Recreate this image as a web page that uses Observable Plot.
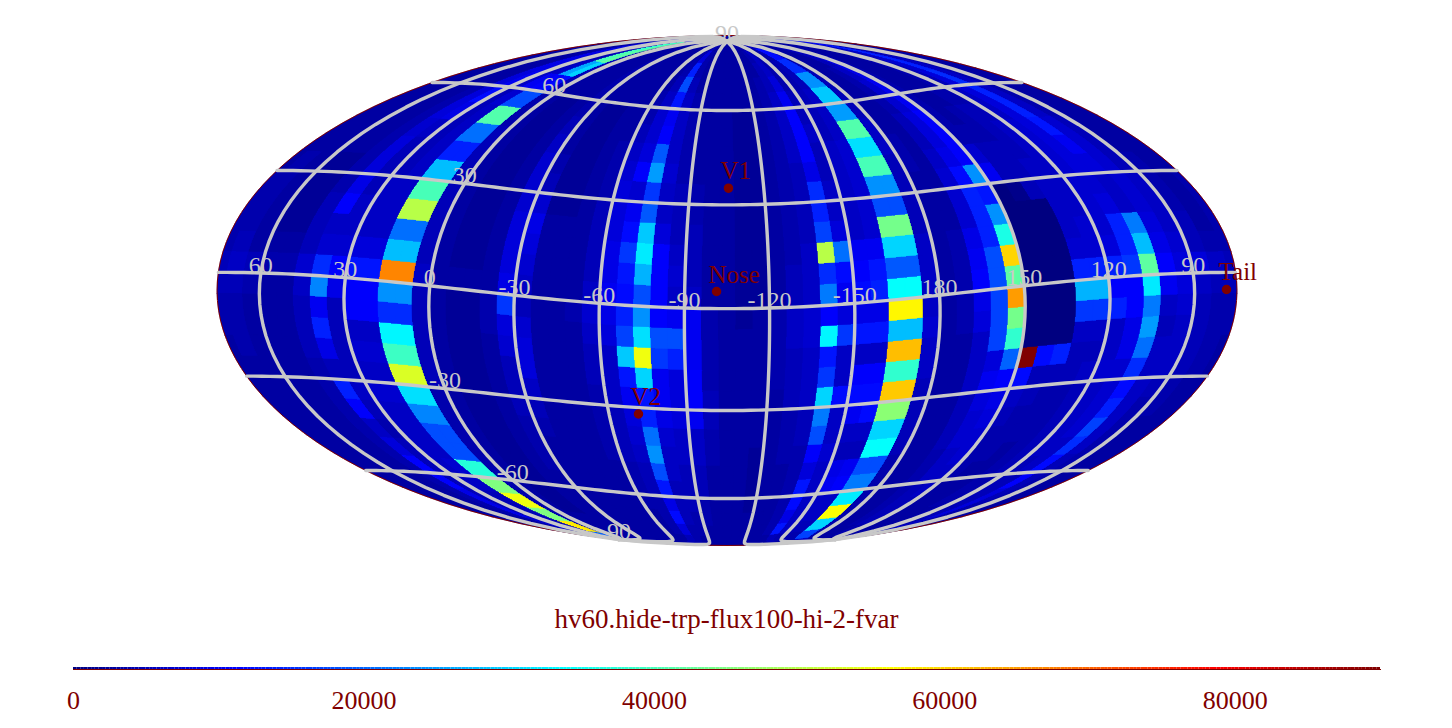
<!DOCTYPE html>
<html><head><meta charset="utf-8">
<script src="https://cdn.jsdelivr.net/npm/d3@7"></script>
<script src="https://cdn.jsdelivr.net/npm/@observablehq/plot@0.6"></script>
<style>
html,body{margin:0;padding:0;background:#fff;}
svg{display:block;}
#title{height:38px;text-align:center;font:27px "Liberation Serif";line-height:38px;color:#800000;padding-left:1px;overflow:visible;}
</style></head><body>
<div id="map"></div><div id="title"></div><div id="bar"></div>
<script>
const titleText = "hv60.hide-trp-flux100-hi-2-fvar";
// flux in thousands: rows from lat 90 down to -90 (6 deg), columns from lon 78 descending (6 deg)
const row00=[3,3,3,3,3,3,3,3,3,4, 10,10,3,3,3,3,3,3,3,3, 3,3,3,3,3,5,3,3,3,3, 3,3,3,3,3,3,4,3,3,3, 6,6,3,3,3,3,3,3,3,3, 3,3,3,3,3,8,3,3,3,3];
const row01=[3,3,3,3,3,3,8,8,4,5, 38,42,4,3,3,3,3,3,3,3, 3,3,3,3,4,8,4,3,3,3, 3,3,3,3,3,4,6,4,3,4, 12,12,4,3,3,3,5,6,3,3, 3,3,3,3,5,12,5,3,3,3];
const row02=[3,3,3,3,3,3,9,8,4,5, 40,42,5,3,3,3,3,4,3,3, 3,3,3,3,4,14,4,3,3,3, 3,3,3,3,3,5,6,4,4,5, 15,15,4,3,3,3,5,8,4,3, 3,3,3,4,6,14,5,4,3,3];
const row03=[3,3,3,3,3,3,9,9,5,6, 26,30,5,3,3,3,3,4,3,3, 3,3,3,3,5,18,5,3,3,3, 3,3,3,3,4,5,8,4,4,5, 24,24,5,3,3,4,6,9,4,3, 3,3,4,5,7,14,6,4,3,3];
const row04=[3,3,3,3,3,3,8,10,6,10, 11,12,5,3,3,3,3,4,3,3, 3,3,3,4,6,13,6,4,3,3, 3,3,3,3,4,6,10,5,5,6, 29,29,5,3,3,4,7,10,4,3, 3,3,4,5,8,15,6,4,3,3];
const row05=[3,3,3,3,3,4,8,12,5,7, 18,18,4,3,2,2,3,4,3,2, 2,3,3,4,7,10,6,4,3,3, 3,2,2,3,4,6,11,5,5,6, 25,25,5,3,3,4,7,10,4,3, 3,4,4,6,8,14,6,4,3,3];
const row06=[3,3,3,3,3,4,8,9,5,6, 41,41,4,3,2,2,3,5,3,2, 2,3,3,5,7,11,6,4,3,3, 3,2,2,3,4,6,11,6,5,6, 41,41,6,3,3,5,8,11,4,3, 4,5,5,6,8,14,6,4,3,3];
const row07=[3,3,3,3,3,4,7,6,5,6, 21,21,5,3,2,2,3,6,3,2, 2,3,4,6,8,19,6,4,3,3, 3,2,2,3,4,6,11,5,6,7, 31,31,6,4,3,5,8,11,4,4, 4,5,6,7,8,13,7,5,3,3];
const row08=[3,3,3,3,3,4,8,5,5,6, 14,14,5,3,2,2,3,7,4,2, 2,3,4,7,11,25,7,4,3,3, 3,2,2,3,4,5,9,5,6,7, 40,40,5,4,3,6,9,11,7,5, 5,5,6,7,8,10,7,5,3,3];
const row09=[3,4,3,2,2,4,8,5,5,6, 28,28,5,3,2,2,3,7,5,2, 2,3,4,8,7,16,6,5,4,3, 3,2,2,3,4,5,15,6,6,7, 24,24,5,3,3,7,12,24,10,5, 5,6,6,7,8,8,7,5,4,3];
const row10=[4,4,3,2,2,4,9,5,6,6, 40,40,5,3,2,2,3,7,7,2, 2,3,5,8,10,19,6,5,4,3, 3,2,2,3,4,5,14,6,6,7, 18,18,5,3,3,7,14,13,0,1, 5,6,6,7,7,6,7,6,4,3];
const row11=[4,4,3,2,2,5,11,6,6,6, 50,50,5,3,2,2,3,8,9,3, 3,3,5,8,12,29,8,5,5,3, 3,2,2,3,4,5,17,8,6,7, 44,44,5,3,3,7,14,24,0,0, 0,6,6,7,8,6,7,6,4,3];
const row12=[4,4,3,2,2,5,6,6,6,6, 21,21,5,3,2,2,3,8,8,3, 3,3,5,9,16,32,11,6,5,3, 3,2,2,3,4,6,50,21,10,10, 30,30,6,3,4,9,14,36,0,0, 0,6,7,7,14,22,8,6,5,3];
const row13=[4,5,3,3,3,5,7,7,8,8, 28,28,5,3,2,2,3,8,7,3, 3,3,5,9,13,27,11,7,5,3, 3,2,2,3,5,6,15,12,11,13, 19,19,6,3,4,10,18,60,0,0, 0,7,7,8,14,28,9,7,5,4];
const row14=[5,6,5,4,4,7,15,11,13,13, 67,67,6,3,3,3,3,9,6,3, 3,3,6,10,12,18,11,6,6,3, 3,2,2,3,5,6,22,10,12,14, 34,34,6,3,4,11,18,42,0,0, 0,14,14,14,16,42,11,8,8,6];
const row15=[5,5,4,3,3,6,23,9,11,11, 24,24,5,3,2,2,4,16,5,3, 3,4,7,9,14,24,11,10,10,4, 3,2,3,4,6,7,11,8,9,9, 57,57,6,3,4,9,17,65,0,0, 0,27,27,11,11,32,10,8,6,5];
const row16=[4,4,3,3,3,5,10,5,11,11, 15,15,5,3,2,2,4,8,7,3, 3,3,6,8,17,31,18,18,10,4, 3,3,3,4,6,7,33,16,13,13, 28,28,7,3,4,8,17,44,0,0, 0,16,16,14,11,22,6,7,5,4];
const row17=[4,4,3,3,3,5,14,5,6,6, 33,33,5,3,2,2,3,7,8,3, 3,3,5,6,29,55,16,14,10,4, 3,3,3,4,5,6,13,6,6,6, 62,62,6,3,3,6,17,38,0,0, 0,6,6,6,9,25,5,6,5,4];
const row18=[3,4,3,3,3,5,9,5,7,7, 39,39,5,3,2,2,3,5,8,3, 3,3,5,6,13,30,10,8,11,4, 3,3,3,4,5,6,16,6,11,11, 38,38,6,3,3,6,8,20,90,12, 14,5,5,6,9,21,6,6,5,4];
const row19=[3,3,3,3,3,4,5,5,6,6, 53,53,5,3,2,2,3,5,6,3, 3,3,4,6,10,13,10,8,11,5, 3,3,3,3,5,6,30,12,12,12, 61,61,5,3,3,6,10,11,12,5, 5,5,6,7,7,15,6,6,5,4];
const row20=[3,3,3,3,3,4,14,6,7,7, 31,31,4,3,2,2,3,5,5,3, 3,3,4,5,8,14,9,8,10,5, 3,3,3,3,4,5,22,6,10,12, 46,46,5,3,3,5,8,9,6,5, 4,4,5,6,7,12,6,5,4,3];
const row21=[3,3,3,3,3,4,11,5,6,6, 23,23,4,3,2,2,3,4,4,3, 3,3,4,5,7,21,7,6,6,4, 3,3,3,3,4,5,18,6,6,6, 30,30,5,3,3,5,7,8,5,4, 4,4,5,6,7,14,6,4,4,3];
const row22=[3,3,3,3,3,4,6,4,6,6, 18,18,4,3,2,2,3,4,3,3, 3,3,4,5,6,24,6,6,6,4, 3,3,2,3,4,4,11,7,5,5, 34,34,5,3,3,5,7,7,4,4, 4,4,5,6,7,17,6,4,3,3];
const row23=[3,3,3,3,3,4,8,5,6,6, 18,18,4,3,2,2,3,4,3,3, 3,3,3,4,5,18,6,5,5,3, 3,3,2,3,3,4,8,6,9,10, 18,18,4,3,3,4,6,7,4,4, 3,4,5,6,6,15,6,4,3,3];
const row24=[3,3,3,3,3,4,11,5,6,7, 37,37,4,3,2,2,3,3,3,3, 3,3,3,4,5,13,5,5,5,3, 3,3,2,3,3,4,13,6,10,11, 22,22,4,3,3,4,6,6,4,3, 3,4,5,5,6,12,5,4,3,3];
const row25=[3,3,3,3,3,4,11,5,6,6, 45,45,4,3,2,2,3,3,3,3, 3,3,3,4,4,9,5,5,4,3, 3,3,2,3,3,4,12,6,6,6, 32,32,4,3,3,4,5,6,3,3, 3,4,4,5,5,11,5,4,3,3];
const row26=[3,3,3,3,3,4,9,5,5,5, 55,55,4,3,2,2,3,3,3,3, 3,3,3,3,4,12,5,4,4,3, 3,3,3,3,3,4,9,6,6,6, 56,56,4,3,3,4,5,5,3,3, 3,4,4,5,5,8,5,4,3,3];
const row27=[3,3,3,3,3,4,9,5,5,5, 45,45,4,3,3,3,3,3,3,3, 3,3,3,3,4,8,4,4,3,3, 3,3,3,3,3,4,13,6,5,5, 30,30,4,3,3,4,5,5,3,3, 3,3,4,4,5,8,4,4,3,3];
const row28=[3,3,3,3,3,3,7,5,5,5, 58,58,4,3,3,3,3,3,3,3, 3,3,3,3,3,5,4,3,3,3, 3,3,3,3,3,3,5,4,4,4, 17,17,4,3,3,3,4,4,3,3, 3,3,3,4,4,6,4,3,3,3];
const row29=[3,3,3,3,3,3,4,4,4,4, 20,20,3,3,3,3,3,3,3,3, 3,3,3,3,3,4,3,3,3,3, 3,3,3,3,3,3,4,3,3,3, 6,6,3,3,3,3,3,3,3,3, 3,3,3,3,3,4,3,3,3,3];
const rows=[row00,row01,row02,row03,row04,row05,row06,row07,row08,row09,row10,row11,row12,row13,row14,row15,row16,row17,row18,row19,row20,row21,row22,row23,row24,row25,row26,row27,row28,row29];

const meridians=[-150,-120,-90,-60,-30,0,30,60,90,120,150,180];
const parallels=[-60,-30,0,30,60];
const lonLabels=[[60,"60"],[30,"30"],[0,"0"],[-30,"-30"],[-60,"-60"],[-90,"-90"],[-120,"-120"],[-150,"-150"],[180,"180"],[150,"150"],[120,"120"],[90,"90"]];
const latLabels=[[0,90,"90"],[0,60,"60"],[0,30,"30"],[0,-30,"-30"],[0,-60,"-60"],[0,-89.9,"90"]];
const probes=[[-101.3,4.9,"Nose"],[-105.6,35,"V1"],[-71.3,-32,"V2"],[78.7,-4.9,"Tail"]];
const colorStops=[0,11250,33750,56250,78750,90000];
const colorRange=["#000080","#0000ff","#00ffff","#ffff00","#ff0000","#800000"];
const barTicks=[0,20000,40000,60000,80000];

const GREY="#c8c8c8", RED="#800000", SERIF='"Liberation Serif"';
const colorScale={type:"linear",domain:colorStops,range:colorRange,interpolate:"rgb"};

function mollweideRaw(l,p){
  const k=Math.PI*Math.sin(p); let t=p;
  for(let i=0;i<60;i++){
    const d=(t*2+Math.sin(2*t)-k)/(2+2*Math.cos(2*t)+1e-12);
    t-=d; if(Math.abs(d)<1e-9)break;
  }
  if(Math.abs(p)>=Math.PI/2-1e-9)t=Math.sign(p)*Math.PI/2;
  return [2*Math.SQRT2/Math.PI*l*Math.cos(t),Math.SQRT2*Math.sin(t)];
}
const proj=d3.geoProjection(mollweideRaw).reflectX(true).scale(180.3).translate([726.5,290]).rotate([105,-5.2,0]).precision(0.2);

const cells=[];
rows.forEach((row,i)=>row.forEach((v,j)=>{
  const n=90-6*i,s=n-6,e=78-6*j,w=e-6;
  const ring=[];
  for(let x=w;x<e;x+=1.5)ring.push([x,n]);
  for(let y=n;y>s;y-=1.5)ring.push([e,y]);
  for(let x=e;x>w;x-=1.5)ring.push([x,s]);
  for(let y=s;y<n;y+=1.5)ring.push([w,y]);
  ring.push(ring[0]);
  cells.push({type:"Polygon",coordinates:[ring],value:v*1000});
}));
const gridLines=[
  ...meridians.map(m=>({type:"LineString",coordinates:d3.range(-90,90.01,3).map(y=>[m,y])})),
  ...parallels.map(p=>({type:"LineString",coordinates:d3.range(-180,180.01,3).map(x=>[x,p])}))
];

const txt={fontFamily:SERIF,fontSize:24};
const map=Plot.plot({
  width:1452,height:600,margin:0,
  projection:()=>proj,
  color:colorScale,
  style:{background:"transparent"},
  marks:[
    Plot.geo(cells,{fill:d=>d.value,stroke:d=>d.value,strokeWidth:0.4,shapeRendering:"crispEdges"}),
    Plot.sphere({stroke:RED,strokeWidth:1}),
    Plot.geo(gridLines,{stroke:GREY,strokeWidth:3.4}),
    Plot.text(lonLabels,{x:d=>d[0],y:()=>0,text:d=>d[1],fill:GREY,dy:-8,...txt}),
    Plot.text(latLabels,{x:d=>d[0],y:d=>d[1],text:d=>d[2],fill:GREY,dy:-8,...txt}),
    Plot.dot(probes,{x:d=>d[0],y:d=>d[1],r:4,fill:RED,stroke:RED}),
    Plot.text(probes,{x:d=>d[0],y:d=>d[1],text:d=>d[2],fill:RED,textAnchor:"start",dx:-8,dy:-17,fontFamily:SERIF,fontSize:25})
  ]
});
document.getElementById("map").append(map);
document.getElementById("title").textContent=titleText;

const step=250;
const bins=d3.range(0,90000,step);
const bar=Plot.plot({
  width:1452,height:90,marginLeft:73,marginRight:72,marginTop:29,marginBottom:59,
  x:{domain:[0,90000]},
  y:{axis:null},
  color:colorScale,
  style:{background:"transparent"},
  marks:[
    Plot.rectY(bins,{x1:d=>d,x2:d=>d+step,y1:0,y2:1,fill:d=>d+step/2,inset:0}),
    Plot.frame({anchor:"bottom",stroke:RED}),
    Plot.axisX({ticks:barTicks,tickFormat:d=>String(d),tickSize:0,tickPadding:21,fontFamily:SERIF,fontSize:26,fill:RED,color:RED})
  ]
});
document.getElementById("bar").append(bar);
</script></body></html>
